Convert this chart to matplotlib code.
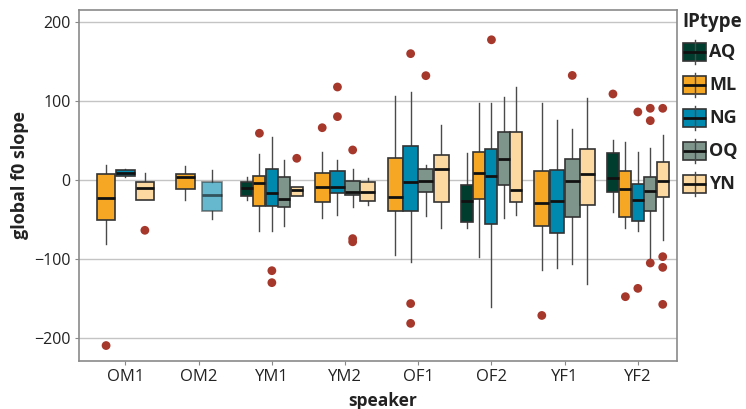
import matplotlib
matplotlib.use('Agg')
import matplotlib.pyplot as plt
from matplotlib.patches import Rectangle

plt.rcParams['font.family'] = ['Open Sans', 'DejaVu Sans']

speakers = ['OM1', 'OM2', 'YM1', 'YM2', 'OF1', 'OF2', 'YF1', 'YF2']
iptypes = ['AQ', 'ML', 'NG', 'OQ', 'YN']
type_colors = ['#003d2e', '#f6a723', '#0089af', '#7e958c', '#fdd9a2']

# one entry per box: speaker, IP type, lower whisker, Q1, median, Q3, upper whisker
box_speaker = ['OM1', 'OM1', 'OM1', 'OM2', 'OM2',
               'YM1', 'YM1', 'YM1', 'YM1', 'YM1',
               'YM2', 'YM2', 'YM2', 'YM2',
               'OF1', 'OF1', 'OF1', 'OF1',
               'OF2', 'OF2', 'OF2', 'OF2', 'OF2',
               'YF1', 'YF1', 'YF1', 'YF1',
               'YF2', 'YF2', 'YF2', 'YF2', 'YF2']
box_type = ['ML', 'NG', 'YN', 'ML', 'NG',
            'AQ', 'ML', 'NG', 'OQ', 'YN',
            'ML', 'NG', 'OQ', 'YN',
            'ML', 'NG', 'OQ', 'YN',
            'AQ', 'ML', 'NG', 'OQ', 'YN',
            'ML', 'NG', 'OQ', 'YN',
            'AQ', 'ML', 'NG', 'OQ', 'YN']
whisk_lo = [-81, 4, -25, -25.3, -49,
            -25.3, -64.4, -64.4, -58.5, -19.8,
            -47.6, -44.6, -34.5, -32,
            -94.7, -103, -46, -60,
            -61, -97.6, -160, -47.6, -44.2,
            -113.6, -111, -106.4, -131.7,
            -40.8, -61, -64.4, -100, -75.8]
q1 = [-50.5, 5, -25, -11.4, -39,
      -19.8, -33.2, -32.4, -33.7, -19.8,
      -27.4, -16, -19.4, -26.1,
      -39, -39, -14.7, -27.4,
      -52.6, -24.4, -55.2, -6.3, -27.4,
      -57.7, -66.5, -46.3, -32,
      -14.7, -46.3, -52.2, -39, -21.5]
median = [-22.3, 8.8, -9.7, 3.8, -19,
          -9.7, -4.2, -16, -23.6, -13,
          -9.3, -8.4, -15.2, -15.2,
          -21.8, -2.5, -1.7, 14.3,
          -26.1, 8.4, 5, 26.1, -12.2,
          -29, -26.1, -0.8, 8,
          2.1, -11.8, -25.3, -14.3, -0.8]
q3 = [7.2, 12.6, -3, 8, -2,
      -2.9, 4.6, 13.5, 3.4, -8.8,
      9.3, 11, -1.7, -2.9,
      27.4, 42.9, 13.5, 31.2,
      -6.3, 35, 38.7, 60.2, 60.2,
      11.8, 13, 27, 38.7,
      33.7, 11.8, -5, 3.8, 22.3]
whisk_hi = [19, 14, 8.4, 17.7, 12.6,
            4.2, 32.8, 54.7, 24.9, -8.8,
            35, 24.9, 13.9, 2.1,
            106, 111, 19.4, 69,
            34.5, 96.8, 96.8, 105, 117,
            96.8, 75.8, 64.8, 103,
            50.5, 47.6, 35.8, 40, 57.2]

# outlying points
out_speaker = ['OM1', 'OM1', 'YM1', 'YM1', 'YM1', 'YM1',
               'YM2', 'YM2', 'YM2', 'YM2', 'YM2', 'YM2',
               'OF1', 'OF1', 'OF1', 'OF1', 'OF2',
               'YF1', 'YF1',
               'YF2', 'YF2', 'YF2', 'YF2', 'YF2', 'YF2', 'YF2',
               'YF2', 'YF2', 'YF2', 'YF2']
out_type = ['ML', 'YN', 'ML', 'NG', 'NG', 'YN',
            'ML', 'NG', 'NG', 'OQ', 'OQ', 'OQ',
            'NG', 'NG', 'NG', 'OQ', 'NG',
            'ML', 'OQ',
            'AQ', 'ML', 'NG', 'NG', 'OQ', 'OQ', 'OQ',
            'YN', 'YN', 'YN', 'YN']
out_value = [-209, -63.5, 59, -114.5, -129.6, 27.4,
             66, 117.4, 80, 37.9, -74, -78,
             159.5, -156, -181, 131.7, 177,
             -171, 132,
             108.6, -147.3, 85.9, -136.8, 90.5, 74.9, -104.8,
             90.5, -96.8, -110.3, -157]

# dodge spacing and box width (in category units) by number of boxes in a group
spacing = {1: 0.0, 2: 0.36, 3: 0.265, 4: 0.208, 5: 0.170}
width = {1: 0.3, 2: 0.27, 3: 0.25, 4: 0.203, 5: 0.163}

centers = {}
for s_i, s in enumerate(speakers):
    present = [t for t in iptypes if any(bs == s and bt == t for bs, bt in zip(box_speaker, box_type))]
    n = len(present)
    for k, t in enumerate(present):
        centers[(s, t)] = (s_i + (k - (n - 1) / 2) * spacing[n], width[n])

fig = plt.figure(figsize=(7.46, 4.09), dpi=100)
W, H = 746, 409
ax = fig.add_axes([79 / W, (H - 361) / H, 598 / W, 351 / H])

for y in [200, 100, 0, -100, -200]:
    ax.axhline(y, color='#c4c4c4', lw=1.0, zorder=0)

for i in range(len(box_speaker)):
    x, w = centers[(box_speaker[i], box_type[i])]
    col = type_colors[iptypes.index(box_type[i])]
    alpha = 0.6 if (box_speaker[i], box_type[i]) == ('OM2', 'NG') else 1.0
    ax.plot([x, x], [whisk_lo[i], q1[i]], color='#4a4a4a', lw=1.0, zorder=2)
    ax.plot([x, x], [q3[i], whisk_hi[i]], color='#4a4a4a', lw=1.0, zorder=2)
    ax.add_patch(Rectangle((x - w / 2, q1[i]), w, q3[i] - q1[i], facecolor=col,
                           edgecolor='#333333', lw=1.2, alpha=alpha, zorder=3))
    ax.plot([x - w / 2, x + w / 2], [median[i], median[i]], color='#111111',
            lw=2.0, alpha=alpha, solid_capstyle='butt', zorder=4)

ox = [centers[(s, t)][0] for s, t in zip(out_speaker, out_type)]
ax.scatter(ox, out_value, s=40, color='#a5372b', edgecolors='none', zorder=5)

ax.set_xlim(-0.635, 7.535)
ax.set_ylim(-228.5, 214.6)
ax.set_xticks(range(len(speakers)))
ax.set_xticklabels(speakers, fontsize=12, color='#222222')
ax.set_yticks([200, 100, 0, -100, -200])
ax.set_yticklabels(['200', '100', '0', '\u2212100', '\u2212200'], fontsize=11.5, color='#222222')
ax.tick_params(axis='both', length=3, color='#888888', pad=3)
for sp in ax.spines.values():
    sp.set_color('#8a8a8a')
    sp.set_linewidth(1.2)

ax.set_xlabel('speaker', fontsize=12.5, fontweight='bold', color='#222222')
ax.xaxis.set_label_coords(0.508, -0.114)
ax.xaxis.label.set_va('center')
ax.set_ylabel('global f0 slope', fontsize=13, fontweight='bold', color='#222222')
ax.yaxis.set_label_coords(-0.0987, 0.53)
ax.yaxis.label.set_va('center')

# legend drawn in pixel coordinates
lax = fig.add_axes([0, 0, 1, 1], facecolor='none')
lax.set_xlim(0, W)
lax.set_ylim(H, 0)
lax.axis('off')
lax.text(682, 22, 'IPtype', fontsize=13.5, fontweight='bold', color='#222222', va='center', ha='left')
for k, t in enumerate(iptypes):
    cy = 51.5 + k * 33
    lax.plot([694.5, 694.5], [cy - 12, cy + 12], color='#4a4a4a', lw=1.0)
    lax.add_patch(Rectangle((683, cy - 9), 23, 18, facecolor=type_colors[k],
                            edgecolor='#333333', lw=1.2))
    lax.plot([683, 706], [cy, cy], color='#111111', lw=2.0, solid_capstyle='butt')
    lax.text(709, cy + 0.5, t, fontsize=13, fontweight='bold', color='#222222', va='center', ha='left')

fig.savefig('out.png', dpi=100)
